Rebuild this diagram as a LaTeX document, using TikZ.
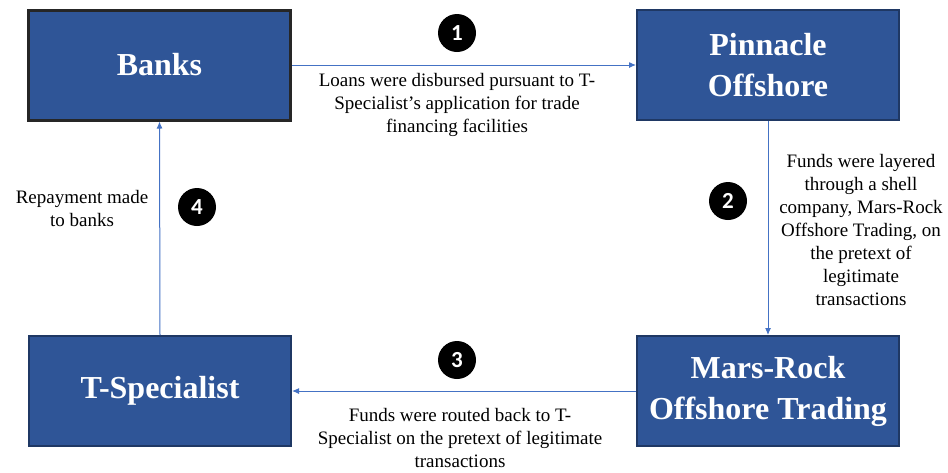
\documentclass[tikz,border=0pt]{standalone}
\usepackage{fontspec}
\setmainfont{Liberation Serif}
\newfontfamily\numfont{Carlito}
\usetikzlibrary{arrows.meta}

\definecolor{boxblue}{RGB}{47,85,151}
\definecolor{boxedge}{RGB}{31,56,100}
\definecolor{flowblue}{RGB}{68,114,196}

\tikzset{
  party/.style={rectangle, fill=boxblue, draw=boxedge, line width=2pt,
    minimum width=262pt, minimum height=110pt, text=white, align=center,
    font=\fontsize{32}{41}\selectfont\bfseries},
  stepnum/.style={circle, fill=black, minimum size=38pt, inner sep=0pt,
    text=white, font=\numfont\fontsize{23}{23}\selectfont\bfseries},
  note/.style={align=center, font=\fontsize{19}{23}\selectfont},
  flow/.style={draw=flowblue, line width=1pt, -{Latex[length=7pt,width=6pt]}}
}

\begin{document}
\begin{tikzpicture}[x=1pt, y=-1pt]
\useasboundingbox (0,0) rectangle (948,472);

% parties
\node[party, draw=black!85, line width=3pt] (banks) at (159.5,65) {Banks};
\node[party] (pinnacle) at (768,65) {Pinnacle\\Offshore};
\node[party] (marsrock) at (768,391) {Mars-Rock\\Offshore Trading};
\node[party] (tspec) at (160,391) {T-Specialist};

% flows of funds
\draw[flow] (banks.east) -- (pinnacle.west);
\draw[flow] (pinnacle.south) -- (marsrock.north);
\draw[flow] (marsrock.west) -- (tspec.east);
\draw[flow] (tspec.north) -- (banks.south);

% step markers
\node[stepnum] (s1) at (457,33) {1};
\node[stepnum] (s2) at (728,201) {2};
\node[stepnum] (s3) at (457,360) {3};
\node[stepnum] (s4) at (197,207) {4};

% descriptions
\node[note] (n1) at (457,105) {Loans were disbursed pursuant to T-\\Specialist’s application for trade\\financing facilities};
\node[note] (n2) at (861,230) {Funds were layered\\through a shell\\company, Mars-Rock\\Offshore Trading, on\\the pretext of\\legitimate\\transactions};
\node[note] (n3) at (460,438) {Funds were routed back to T-\\Specialist on the pretext of legitimate\\transactions};
\node[note] (n4) at (82,208) {Repayment made\\to banks};
\end{tikzpicture}
\end{document}
